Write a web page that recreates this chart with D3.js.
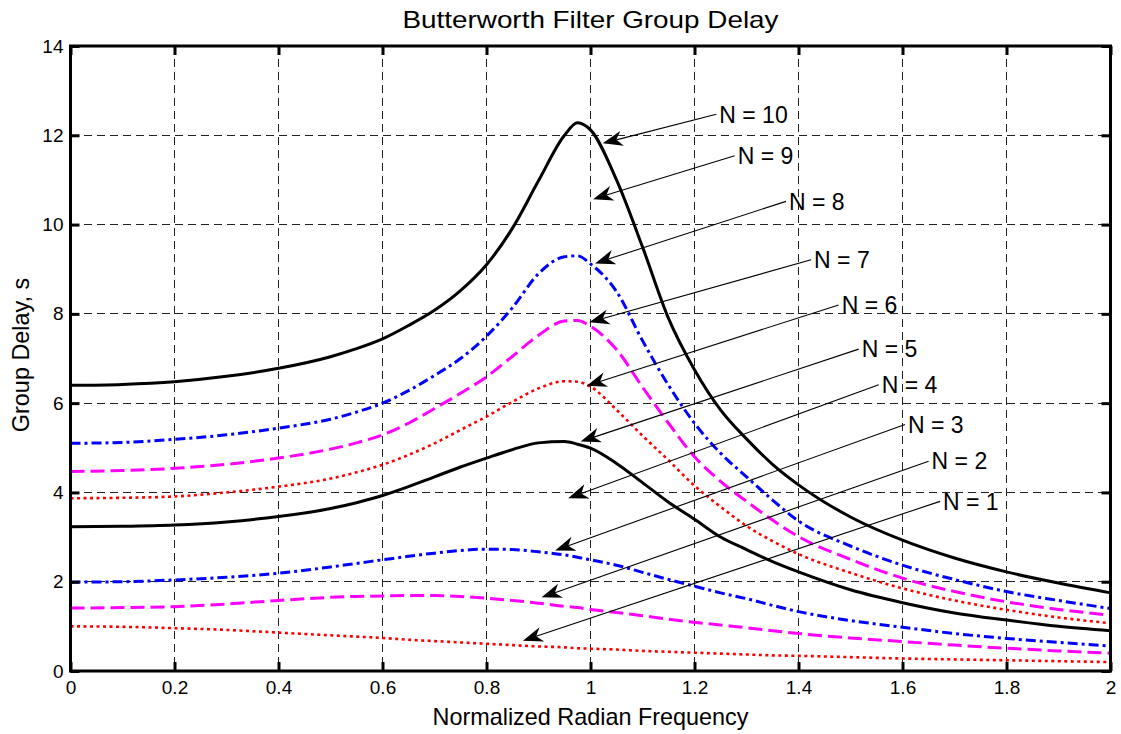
<!DOCTYPE html>
<html><head><meta charset="utf-8">
<script src="https://cdn.jsdelivr.net/npm/d3@7"></script>
<style>
body{margin:0;background:#fff}
text{font-family:"Liberation Sans",Arial,Helvetica,sans-serif;fill:#000}
</style>
</head><body>
<svg id="chart" width="1121" height="734"></svg>
<script>
// ---- data ----
const freq = [0,0.1,0.2,0.3,0.4,0.5,0.55,0.6,0.65,0.7,0.75,0.8,0.85,0.9,0.95,0.975,1.0,1.05,1.1,1.15,1.2,1.25,1.3,1.35,1.4,1.5,1.6,1.7,1.8,1.9,2.0];
const delayN1  = [1.00,0.99,0.96,0.92,0.86,0.80,0.77,0.74,0.70,0.67,0.64,0.61,0.58,0.55,0.53,0.51,0.50,0.48,0.45,0.43,0.41,0.39,0.37,0.35,0.34,0.31,0.28,0.26,0.24,0.22,0.20];
const delayN2  = [1.41,1.42,1.44,1.50,1.58,1.65,1.67,1.68,1.69,1.69,1.67,1.63,1.58,1.52,1.45,1.42,1.38,1.31,1.24,1.16,1.09,1.03,0.97,0.90,0.84,0.74,0.66,0.58,0.51,0.45,0.40];
const delayN3  = [1.99,2.00,2.04,2.10,2.19,2.33,2.41,2.49,2.57,2.64,2.70,2.73,2.72,2.67,2.60,2.55,2.49,2.37,2.21,2.05,1.90,1.75,1.62,1.47,1.33,1.13,0.98,0.84,0.73,0.64,0.56];
const delayN5  = [3.23,3.24,3.27,3.34,3.46,3.64,3.77,3.93,4.13,4.35,4.57,4.77,4.96,5.11,5.14,5.08,4.99,4.65,4.22,3.78,3.40,3.00,2.72,2.45,2.22,1.82,1.53,1.30,1.14,1.00,0.90];
const delayN6  = [3.87,3.88,3.91,4.00,4.13,4.31,4.45,4.62,4.84,5.10,5.40,5.70,6.03,6.33,6.49,6.48,6.37,5.85,5.27,4.72,4.15,3.68,3.25,2.91,2.62,2.20,1.85,1.58,1.37,1.20,1.07];
const delayN7  = [4.47,4.49,4.54,4.63,4.77,4.97,5.11,5.29,5.55,5.88,6.22,6.59,7.05,7.52,7.84,7.85,7.72,7.20,6.36,5.55,4.80,4.25,3.80,3.38,3.01,2.50,2.08,1.78,1.55,1.38,1.25];
const delayN8  = [5.10,5.12,5.19,5.29,5.44,5.64,5.80,6.00,6.28,6.62,7.00,7.50,8.14,8.90,9.28,9.30,9.12,8.50,7.40,6.40,5.55,4.88,4.35,3.83,3.36,2.80,2.37,2.05,1.78,1.58,1.40];
const delayN10 = [6.40,6.42,6.48,6.60,6.78,7.04,7.22,7.44,7.74,8.08,8.52,9.10,9.92,10.98,12.00,12.28,12.12,11.00,9.50,7.90,6.75,5.85,5.20,4.63,4.17,3.45,2.93,2.53,2.22,1.97,1.75];

const xTicks = [0,0.2,0.4,0.6,0.8,1,1.2,1.4,1.6,1.8,2];
const xTickLabels = ["0","0.2","0.4","0.6","0.8","1","1.2","1.4","1.6","1.8","2"];
const yTicks = [0,2,4,6,8,10,12,14];
const yTickLabels = ["0","2","4","6","8","10","12","14"];

const annotLabels    = ["N = 10","N = 9","N = 8","N = 7","N = 6","N = 5","N = 4","N = 3","N = 2","N = 1"];
const annotTipFreq   = [1.0235,1.005,1.0087,0.9977,0.9927,0.981,0.957,0.932,0.906,0.870];
const annotTipDelay  = [11.82,10.57,9.13,7.81,6.39,5.14,3.87,2.70,1.65,0.68];
const annotTextFreq  = [1.2477,1.283,1.3817,1.430,1.483,1.5215,1.560,1.6106,1.656,1.678];
const annotTextDelay = [12.47,11.54,10.52,9.21,8.20,7.21,6.41,5.52,4.70,3.80];

const titleText = "Butterworth Filter Group Delay";
const xLabel = "Normalized Radian Frequency";
const yLabel = "Group Delay, s";

// ---- styles ----
const styles = {
  dotted:  {color:"#ff0000", dash:"3,3.5", width:2.6},
  dashed:  {color:"#ff00ff", dash:"14,6", width:3},
  dashdot: {color:"#0000ff", dash:"10,4,3,4", width:3},
  solid:   {color:"#000000", dash:null, width:3}
};
const series = [
  {values:delayN1,  style:"dotted"},
  {values:delayN2,  style:"dashed"},
  {values:delayN3,  style:"dashdot"},
  {values:delayN5,  style:"solid"},
  {values:delayN6,  style:"dotted"},
  {values:delayN7,  style:"dashed"},
  {values:delayN8,  style:"dashdot"},
  {values:delayN10, style:"solid"}
];

// ---- layout ----
const L = 70.5, R = 1110.5, T = 46, B = 671;
const svg = d3.select("#chart");
svg.append("rect").attr("width",1121).attr("height",734).attr("fill","#fff");

const x = d3.scaleLinear().domain([0,2]).range([L,R]);
const y = d3.scaleLinear().domain([0,14]).range([B,T]);

// grid
const grid = svg.append("g").attr("stroke","#222").attr("stroke-width",1).attr("stroke-dasharray","8,5").attr("shape-rendering","crispEdges");
grid.selectAll("line.v").data(xTicks.slice(1,-1)).enter().append("line")
  .attr("x1",d=>x(d)).attr("x2",d=>x(d)).attr("y1",T).attr("y2",B);
grid.selectAll("line.h").data(yTicks.slice(1,-1)).enter().append("line")
  .attr("x1",L).attr("x2",R).attr("y1",d=>y(d)).attr("y2",d=>y(d));

// curves
const line = d3.line().x(d=>x(d[0])).y(d=>y(d[1])).curve(d3.curveMonotoneX);
series.forEach(s=>{
  const st = styles[s.style];
  svg.append("path")
    .datum(freq.map((f,i)=>[f,s.values[i]]))
    .attr("d",line)
    .attr("fill","none")
    .attr("stroke",st.color)
    .attr("stroke-width",st.width)
    .attr("stroke-dasharray",st.dash)
    .attr("stroke-linejoin","round");
});

// axes
const tickLen = 9;
const fs = 19;
const axB = svg.append("g").attr("transform",`translate(0,${B})`)
  .call(d3.axisBottom(x).tickValues(xTicks).tickFormat((d,i)=>xTickLabels[i]).tickSizeInner(-tickLen).tickSizeOuter(0).tickPadding(10));
const axT = svg.append("g").attr("transform",`translate(0,${T})`)
  .call(d3.axisTop(x).tickValues(xTicks).tickFormat("").tickSizeInner(-tickLen).tickSizeOuter(0));
const axL = svg.append("g").attr("transform",`translate(${L},0)`)
  .call(d3.axisLeft(y).tickValues(yTicks).tickFormat((d,i)=>yTickLabels[i]).tickSizeInner(-tickLen).tickSizeOuter(0).tickPadding(7));
const axR = svg.append("g").attr("transform",`translate(${R},0)`)
  .call(d3.axisRight(y).tickValues(yTicks).tickFormat("").tickSizeInner(-tickLen).tickSizeOuter(0));
[axB,axT,axL,axR].forEach(g=>{
  g.select(".domain").remove();
  g.selectAll(".tick line").attr("stroke","#000").attr("stroke-width",3);
  g.selectAll(".tick text").attr("font-size",fs).attr("font-family","Liberation Sans, Arial, sans-serif").attr("fill","#000");
});
// box
svg.append("rect").attr("x",L).attr("y",T).attr("width",R-L).attr("height",B-T)
  .attr("fill","none").attr("stroke","#000").attr("stroke-width",3);

// annotations
const ann = svg.append("g");
annotLabels.forEach((lab,i)=>{
  const tx = x(annotTipFreq[i]), ty = y(annotTipDelay[i]);
  const sx = x(annotTextFreq[i]) - 3, sy = y(annotTextDelay[i]);
  const ang = Math.atan2(ty-sy, tx-sx);
  const hl = 20, hw = 7.5, notch = 14;
  ann.append("line").attr("x1",sx).attr("y1",sy).attr("x2",tx - Math.cos(ang)*notch).attr("y2",ty - Math.sin(ang)*notch)
    .attr("stroke","#000").attr("stroke-width",1.1);
  const pts = [[0,0],[-hl,-hw],[-notch,0],[-hl,hw]].map(([u,v])=>[
    tx + u*Math.cos(ang) - v*Math.sin(ang),
    ty + u*Math.sin(ang) + v*Math.cos(ang)]);
  ann.append("path").attr("d","M"+pts.map(p=>p.join(",")).join("L")+"Z").attr("fill","#000");
  ann.append("text").attr("x",x(annotTextFreq[i])).attr("y",y(annotTextDelay[i]))
    .attr("dy","0.36em").attr("font-size",23).text(lab);
});

// titles
svg.append("text").attr("x",(L+R)/2).attr("y",28).attr("text-anchor","middle")
  .attr("font-size",24).attr("textLength",376).attr("lengthAdjust","spacingAndGlyphs").text(titleText);
svg.append("text").attr("x",(L+R)/2).attr("y",725).attr("text-anchor","middle")
  .attr("font-size",23.4).text(xLabel);
svg.append("text").attr("transform","translate(29,355) rotate(-90)").attr("text-anchor","middle")
  .attr("font-size",23.4).text(yLabel);
</script>
</body></html>
